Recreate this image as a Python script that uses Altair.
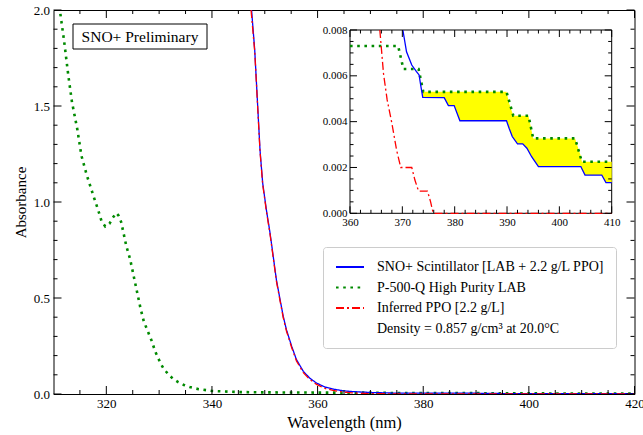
import altair as alt
import pandas as pd

# ---------------- data ----------------
blue_wl = [347.5, 348.1, 348.6, 349.1, 349.6, 350.3, 351.0, 351.6, 352.2, 352.9, 353.5, 354.1,
           355.1, 356.0, 357.3, 358.5, 359.8, 361.4, 362.9, 364.8, 366.1, 368.0, 370.1, 370.8,
           371.8, 372.7, 373.2, 373.5, 373.9, 378.0, 378.8, 379.9, 381.0, 389.9, 390.4, 391.0,
           392.0, 393.0, 393.8, 394.7, 396.0, 404.1, 404.9, 408.1, 408.9, 410.0, 420.0]
blue_A = [2.0, 1.79, 1.53, 1.27, 1.1, 0.96, 0.838, 0.717, 0.595, 0.491, 0.404, 0.335,
          0.248, 0.179, 0.118, 0.083, 0.057, 0.036, 0.026, 0.017, 0.0135, 0.0105, 0.008, 0.00705,
          0.00647, 0.00618, 0.00604, 0.0056, 0.00506, 0.00505, 0.0047, 0.0047, 0.00404, 0.00404, 0.00371, 0.00335,
          0.00303, 0.00303, 0.00284, 0.00247, 0.00204, 0.00204, 0.00167, 0.00167, 0.00134, 0.00134, 0.0012]

red_wl = [347.4, 348.1, 348.6, 349.1, 349.6, 350.3, 351.0, 351.6, 352.2, 352.9, 353.5, 354.1,
          355.1, 356.0, 357.3, 358.5, 359.8, 361.4, 362.9, 364.8, 365.7, 366.4, 367.1, 368.0,
          368.9, 369.7, 371.8, 372.4, 373.1, 374.8, 375.4, 375.9, 410.0, 420.0]
red_A = [2.0, 1.783, 1.523, 1.263, 1.093, 0.953, 0.831, 0.71, 0.588, 0.484, 0.397, 0.328,
         0.241, 0.172, 0.111, 0.076, 0.05, 0.029, 0.019, 0.01, 0.008, 0.0061, 0.00495, 0.00393,
         0.00276, 0.002, 0.002, 0.00145, 0.00097, 0.00097, 0.0005, 0.0, 0.0, 0.0]

green_wl = [311.3, 312.0, 312.8, 313.5, 314.5, 315.3, 316.3, 317.0, 317.7, 318.4, 319.1, 319.8,
            320.6, 321.2, 321.9, 322.3, 322.8, 323.3, 323.8, 324.5, 325.0, 325.5, 326.0, 326.5,
            327.1, 327.8, 328.5, 329.3, 330.3, 330.9, 331.7, 332.6, 333.6, 334.7, 335.8, 337.5,
            340.0, 345.0, 350.0, 360.0, 369.2, 370.2, 373.1, 374.0, 389.9, 391.2, 394.1, 395.0,
            403.0, 404.3, 410.0, 420.0]
green_A = [1.98, 1.84, 1.66, 1.52, 1.38, 1.24, 1.14, 1.08, 1.02, 0.963, 0.90, 0.873,
           0.887, 0.917, 0.943, 0.93, 0.897, 0.833, 0.769, 0.703, 0.638, 0.573, 0.508, 0.443,
           0.378, 0.33, 0.283, 0.219, 0.158, 0.13, 0.104, 0.08, 0.062, 0.047, 0.036, 0.025,
           0.016, 0.010, 0.0085, 0.0073, 0.0073, 0.0063, 0.0063, 0.0053, 0.0053, 0.00426, 0.00426, 0.00327,
           0.00327, 0.00225, 0.00225, 0.0021]

# yellow band in the inset (between scintillator and LAB)
fill_wl = [373.9, 374.0, 378.0, 378.8, 379.9, 381.0, 389.9, 390.4, 391.0, 391.2, 392.0, 393.0,
           393.8, 394.1, 394.7, 395.0, 396.0, 403.0, 404.1, 404.3, 404.9, 408.1, 408.9, 410.0]
fill_low = [0.00506, 0.00505, 0.00505, 0.0047, 0.0047, 0.00404, 0.00404, 0.00371, 0.00335, 0.0033, 0.00303, 0.00303,
            0.00284, 0.00275, 0.00247, 0.0024, 0.00204, 0.00204, 0.00204, 0.0019, 0.00167, 0.00167, 0.00134, 0.00134]
fill_high = [0.0054, 0.00531, 0.00531, 0.00531, 0.00531, 0.00531, 0.00531, 0.0048, 0.0044, 0.00426, 0.00426, 0.00426,
             0.00426, 0.00426, 0.0036, 0.00327, 0.00327, 0.00327, 0.0025, 0.00225, 0.00225, 0.00225, 0.00225, 0.00225]

# ticks
x_major = [320, 340, 360, 380, 400, 420]
x_minor = [315, 325, 330, 335, 345, 350, 355, 365, 370, 375, 385, 390, 395, 405, 410, 415]
y_major = [0.0, 0.5, 1.0, 1.5, 2.0]
y_minor = [0.1, 0.2, 0.3, 0.4, 0.6, 0.7, 0.8, 0.9, 1.1, 1.2, 1.3, 1.4, 1.6, 1.7, 1.8, 1.9]
ix_major = [360, 370, 380, 390, 400, 410]
ix_minor = [362, 364, 366, 368, 372, 374, 376, 378, 382, 384, 386, 388, 392, 394, 396, 398, 402, 404, 406, 408]
iy_major = [0.0, 0.002, 0.004, 0.006, 0.008]
iy_minor = [0.0005, 0.001, 0.0015, 0.0025, 0.003, 0.0035, 0.0045, 0.005, 0.0055, 0.0065, 0.007, 0.0075]

S_NAME = "SNO+ Scintillator [LAB + 2.2 g/L PPO]"
L_NAME = "P-500-Q High Purity LAB"
P_NAME = "Inferred PPO [2.2 g/L]"
D_NAME = "Density = 0.857 g/cm\u00b3 at 20.0\u00b0C"
names = [S_NAME, L_NAME, P_NAME, D_NAME]

BLUE, GREEN, RED, YELLOW = "#0000ff", "#008a00", "#ff0000", "#ffff00"
DASH_L = [2.6, 4.6]
DASH_P = [8, 3, 2, 3]

# ---------------- layout constants ----------------
W, H = 581, 384
IX0, IX1, IY0, IY1 = 296.5, 558.2, 203.3, 20.0
FONT = "Liberation Serif"

df_blue = pd.DataFrame({"wl": blue_wl, "A": blue_A, "series": S_NAME})
df_green = pd.DataFrame({"wl": green_wl, "A": green_A, "series": L_NAME})
df_red = pd.DataFrame({"wl": red_wl, "A": red_A, "series": P_NAME})
df_fill = pd.DataFrame({"wl": fill_wl, "A": fill_low, "A2": fill_high})

# ---------------- main panel ----------------
sx = alt.Scale(domain=[310, 420], nice=False, zero=False)
sy = alt.Scale(domain=[0, 2], nice=False, zero=False)
ax_x = alt.Axis(values=x_major, format="d", title="Wavelength (nm)", ticks=False, tickSize=0,
                domain=False, grid=False, labelFlush=False, labelOverlap=False, labelPadding=3,
                labelFontSize=13, titleFontSize=16.5, titlePadding=4)
ax_y = alt.Axis(values=y_major, format=".1f", title="Absorbance", ticks=False, tickSize=0,
                domain=False, grid=False, labelFlush=False, labelOverlap=False, labelPadding=4,
                labelFontSize=13, titleFontSize=15, titlePadding=5)
X = alt.X("wl:Q", scale=sx, axis=ax_x)
Y = alt.Y("A:Q", scale=sy, axis=ax_y)

legend = alt.Legend(title=None, orient="none", legendX=269.5, legendY=237, fillColor="white",
                    strokeColor="#cccccc", cornerRadius=3, padding=12, labelFont=FONT,
                    labelFontSize=14, labelColor="black", labelOffset=26,
                    symbolType="M-1,0H3", symbolSize=196,
                    symbolStrokeWidth=1.8, rowPadding=5.5, labelLimit=400)
col = alt.Color("series:N", scale=alt.Scale(domain=names, range=[BLUE, GREEN, RED, "rgba(0,0,0,0)"]),
                legend=legend)
dash = alt.StrokeDash("series:N", scale=alt.Scale(domain=names, range=[[1, 0], DASH_L, DASH_P, [1, 0]]),
                      legend=legend)


def main_line(df, width):
    return alt.Chart(df).mark_line(strokeWidth=width, clip=True).encode(
        x=X, y=Y, color=col, strokeDash=dash)


def xticks(values, xenc, ybase, ytip):
    return alt.Chart(pd.DataFrame({"wl": values})).mark_rule(color="black", strokeWidth=1).encode(
        x=xenc, y=alt.value(ybase), y2=alt.value(ytip))


def yticks(values, yenc, xbase, xtip):
    return alt.Chart(pd.DataFrame({"A": values})).mark_rule(color="black", strokeWidth=1).encode(
        y=yenc, x=alt.value(xbase), x2=alt.value(xtip))


box = alt.Chart(pd.DataFrame({"t": ["SNO+ Preliminary"]})).mark_rect(
    fill="white", stroke="black", strokeWidth=1).encode(
    x=alt.value(19.5), x2=alt.value(153.5), y=alt.value(14), y2=alt.value(39))
box_text = alt.Chart(pd.DataFrame({"t": ["SNO+ Preliminary"]})).mark_text(
    font=FONT, fontSize=15.5, align="center", baseline="middle", color="black").encode(
    x=alt.value(86.5), y=alt.value(27), text="t:N")

MJ, MN = 8, 4
main = alt.layer(
    main_line(df_green, 2.6),
    main_line(df_blue, 1.3),
    main_line(df_red, 1.3),
    xticks(x_major, X, H, H - MJ), xticks(x_minor, X, H, H - MN),
    xticks(x_major, X, 0, MJ), xticks(x_minor, X, 0, MN),
    yticks(y_major, Y, 0, MJ), yticks(y_minor, Y, 0, MN),
    yticks(y_major, Y, W, W - MJ), yticks(y_minor, Y, W, W - MN),
    box, box_text,
)

# ---------------- inset ----------------
sxi = alt.Scale(domain=[360, 410], range=[IX0, IX1], nice=False, zero=False)
syi = alt.Scale(domain=[0, 0.008], range=[IY0, IY1], nice=False, zero=False)
ax_xi = alt.Axis(values=ix_major, format="d", title=None, orient="bottom", offset=-(H - IY0),
                 ticks=False, tickSize=0, domain=False, grid=False, labelFlush=False,
                 labelOverlap=False, labelPadding=3, labelFontSize=11)
ax_yi = alt.Axis(values=iy_major, format=".3f", title=None, orient="left", offset=-IX0,
                 ticks=False, tickSize=0, domain=False, grid=False, labelFlush=False,
                 labelOverlap=False, labelPadding=3, labelFontSize=11)
Xi = alt.X("wl:Q", scale=sxi, axis=ax_xi)
Yi = alt.Y("A:Q", scale=syi, axis=ax_yi)

in_filter = (alt.datum.wl >= 360) & (alt.datum.wl <= 410) & (alt.datum.A <= 0.00801)


def inset_line(df, color, width, dsh=None):
    kw = dict(color=color, strokeWidth=width)
    if dsh is not None:
        kw["strokeDash"] = dsh
    return alt.Chart(df).transform_filter(in_filter).mark_line(**kw).encode(x=Xi, y=Yi)


frame = alt.Chart(pd.DataFrame({"wl": [360], "wl2": [410], "A": [0.0], "A2": [0.008]})).mark_rect(
    fill="white", stroke="black", strokeWidth=1).encode(x=Xi, x2="wl2:Q", y=Yi, y2="A2:Q")
band = alt.Chart(df_fill).mark_area(color=YELLOW, opacity=1).encode(x=Xi, y=Yi, y2="A2:Q")

IMJ, IMN = 7, 3.5
inset = alt.layer(
    frame,
    band,
    inset_line(df_green, GREEN, 2.6, DASH_L),
    inset_line(df_blue, BLUE, 1.3),
    inset_line(df_red, RED, 1.3, DASH_P),
    xticks(ix_major, Xi, IY0, IY0 - IMJ), xticks(ix_minor, Xi, IY0, IY0 - IMN),
    xticks(ix_major, Xi, IY1, IY1 + IMJ), xticks(ix_minor, Xi, IY1, IY1 + IMN),
    yticks(iy_major, Yi, IX0, IX0 + IMJ), yticks(iy_minor, Yi, IX0, IX0 + IMN),
    yticks(iy_major, Yi, IX1, IX1 - IMJ), yticks(iy_minor, Yi, IX1, IX1 - IMN),
)

chart = alt.layer(main, inset).resolve_scale(x="independent", y="independent").properties(
    width=W, height=H,
    padding={"left": 53.5, "top": 10, "right": 8.5, "bottom": 41},
    autosize=alt.AutoSizeParams(type="none"),
    background="white",
).configure_view(stroke="black", strokeWidth=1).configure_axis(
    labelFont=FONT, titleFont=FONT, titleFontWeight="normal", labelColor="black", titleColor="black"
)

chart.save("out.html", embed_options={"renderer": "svg", "actions": False})
